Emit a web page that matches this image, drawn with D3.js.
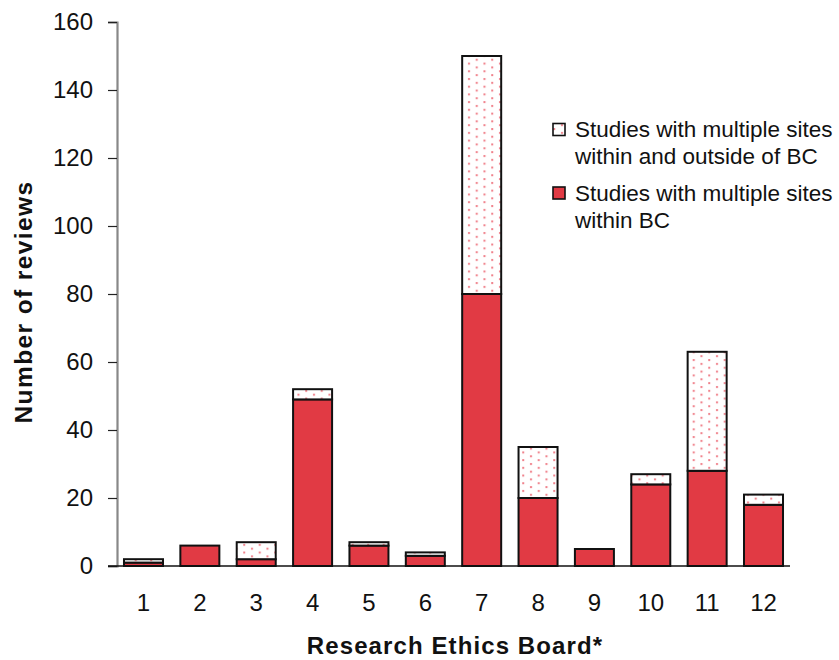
<!DOCTYPE html>
<html>
<head>
<meta charset="utf-8">
<script src="https://cdn.jsdelivr.net/npm/d3@7/dist/d3.min.js"></script>
<style>
  html, body { margin: 0; padding: 0; background: #fff; }
  svg { display: block; font-family: "Liberation Sans", Arial, sans-serif; }
</style>
</head>
<body>
<svg id="chart" width="839" height="660"></svg>
<script>
// Multi-site study reviews per Research Ethics Board
const boards = ["1","2","3","4","5","6","7","8","9","10","11","12"];
const withinBC = [1, 6, 2, 49, 6, 3, 80, 20, 5, 24, 28, 18];
const withinAndOutsideBC = [1, 0, 5, 3, 1, 1, 70, 15, 0, 3, 35, 3];
const yTicks = [0, 20, 40, 60, 80, 100, 120, 140, 160];
const seriesNames = [
  ["Studies with multiple sites", "within and outside of BC"],
  ["Studies with multiple sites", "within BC"]
];

const RED = "#e13a44";
const svg = d3.select("#chart");

// dotted fill for the outside-BC segment
const defs = svg.append("defs");
const pat = defs.append("pattern")
  .attr("id", "dots")
  .attr("patternUnits", "userSpaceOnUse")
  .attr("width", 15.5).attr("height", 7.7);
pat.append("rect").attr("width", 15.5).attr("height", 7.7).attr("fill", "#fff");
pat.append("rect").attr("x", 3).attr("y", 1).attr("width", 2).attr("height", 2).attr("fill", "#f0808a");
pat.append("rect").attr("x", 10.75).attr("y", 4.85).attr("width", 2).attr("height", 2).attr("fill", "#f0808a");

const x = d3.scaleBand().domain(boards).range([117, 790])
  .paddingInner(0.308).paddingOuter(0.124);
const y = d3.scaleLinear().domain([0, 160]).range([566, 22]);

const rows = boards.map((b, i) => ({ board: b, inside: withinBC[i], outside: withinAndOutsideBC[i] }));
const stack = d3.stack().keys(["inside", "outside"])(rows);
const fills = { inside: RED, outside: "url(#dots)" };

// y axis
const yAxis = svg.append("g").attr("transform", "translate(117,0)")
  .call(d3.axisLeft(y).tickValues(yTicks).tickSize(9).tickPadding(15));
yAxis.select(".domain").attr("stroke", "#888").attr("stroke-width", 2.2);
yAxis.selectAll(".tick line").attr("stroke", "#222").attr("stroke-width", 1.2);
yAxis.selectAll(".tick text").attr("font-size", 24).attr("fill", "#111")
  .attr("font-family", "Liberation Sans, Arial, sans-serif");

// bars
stack.forEach(layer => {
  svg.append("g").selectAll("rect").data(layer.filter(d => d[1] > d[0])).join("rect")
    .attr("x", d => x(d.data.board))
    .attr("width", x.bandwidth())
    .attr("y", d => y(d[1]))
    .attr("height", d => y(d[0]) - y(d[1]))
    .attr("fill", fills[layer.key])
    .attr("stroke", "#111")
    .attr("stroke-width", 2);
});

// x axis
svg.append("line").attr("x1", 108).attr("x2", 790)
  .attr("y1", y(0)).attr("y2", y(0)).attr("stroke", "#111").attr("stroke-width", 1.6);
const xAxis = svg.append("g").attr("transform", `translate(0,${y(0)})`)
  .call(d3.axisBottom(x).tickSize(0).tickPadding(28));
xAxis.select(".domain").remove();
xAxis.selectAll(".tick text").attr("font-size", 24).attr("fill", "#111")
  .attr("font-family", "Liberation Sans, Arial, sans-serif");

// axis titles
svg.append("text").attr("x", 455).attr("y", 654).attr("text-anchor", "middle")
  .attr("font-size", 24).attr("font-weight", "bold").attr("letter-spacing", 1.1)
  .attr("fill", "#111").text("Research Ethics Board*");
svg.append("text").attr("transform", "translate(32,302) rotate(-90)")
  .attr("text-anchor", "middle").attr("font-size", 24.5).attr("font-weight", "bold")
  .attr("letter-spacing", 1.4).attr("fill", "#111").text("Number of reviews");

// legend
const legendFills = ["url(#dots)", RED];
const legendTop = [123.5, 187];
seriesNames.forEach((lines, i) => {
  svg.append("rect").attr("x", 553).attr("y", legendTop[i]).attr("width", 12).attr("height", 12)
    .attr("fill", legendFills[i]).attr("stroke", "#111").attr("stroke-width", 1.6);
  lines.forEach((t, j) => {
    svg.append("text").attr("x", 575).attr("y", legendTop[i] + 13.5 + j * 27)
      .attr("font-size", 22.5).attr("fill", "#111").text(t);
  });
});
</script>
</body>
</html>
